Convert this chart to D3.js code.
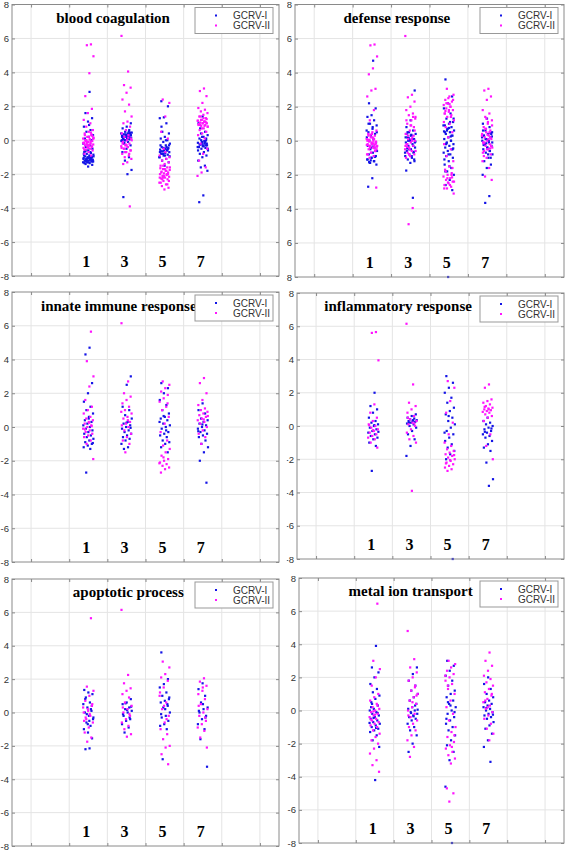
<!DOCTYPE html>
<html><head><meta charset="utf-8">
<script src="https://cdn.jsdelivr.net/npm/d3@7/dist/d3.min.js"></script>
<style>body{margin:0;background:#fff}svg{display:block}</style>
</head><body>
<svg id="c" width="567" height="851"></svg>
<script>
// ---------------- data ----------------
const timePoints = [1, 3, 5, 7];
const seriesNames = ["GCRV-I", "GCRV-II"];
const yTicks = [-8, -6, -4, -2, 0, 2, 4, 6, 8];
const xTicks = [-2, 0, 2, 4, 6, 8, 10];
const panelTitles = ["blood coagulation", "defense response", "innate immune response",
  "inflammatory response", "apoptotic process", "metal ion transport"];

// blood coagulation
const bloodI = [
  [2.85,1.6,1.3,1.1,0.8,0.6,0.5,0.3,0.2,0.1,0,-0.1,-0.2,-0.3,-0.4,-0.5,-0.6,-0.7,-0.75,-0.8,-0.85,-0.9,-0.95,-1.0,-1.0,-1.05,-1.1,-1.1,-1.15,-1.2,-1.2,-1.25,-1.3,-1.3,-1.35,-1.4,-1.45,-1.55,-0.9,-1.05,-1.15,-1.25,0.9,-0.65,
   -1.0,-1.05,-1.1,-1.15,-1.2,-1.25,-1.3,-1.35,-1.1,-1.2,-0.95,-1.0,-1.25,-1.15,-1.05,-0.8,-0.7,-0.6],
  [1.0,0.8,0.7,0.6,0.5,0.45,0.4,0.35,0.3,0.3,0.25,0.2,0.2,0.15,0.1,0.1,0.05,0,-0.05,-0.1,-0.2,-0.3,-0.5,-0.7,-1.0,-1.2,-1.75,-2.0,-3.35,0.4,0.2,0.0,0.35,-0.15,
   0.3,0.25,0.2,0.15,0.35,0.4,0.1,0.05,0.45,0.3,0.2,0.5,0.0],
  [2.3,2.0,1.35,1.3,1.0,0.5,0.4,0.2,0.1,0,-0.1,-0.2,-0.3,-0.4,-0.45,-0.5,-0.55,-0.6,-0.65,-0.7,-0.75,-0.8,-0.85,-0.9,-1.0,-1.1,-1.2,-1.3,-1.5,-0.3,-0.6,-0.8,-0.95,-0.5,0.8,
   -0.5,-0.6,-0.7,-0.4,-0.8,-0.3,-0.9,-0.65,-0.55,-0.45,-1.0,0.0],
  [1.4,1.0,0.5,0.4,0.3,0.2,0.1,0,-0.1,-0.15,-0.2,-0.25,-0.3,-0.35,-0.4,-0.45,-0.5,-0.6,-0.7,-0.8,-0.9,-1.0,-1.2,-1.5,-1.6,-1.8,-3.25,-3.65,-0.3,-0.2,-0.4,-0.05,0.7,
   -0.2,-0.3,-0.4,-0.1,0.0,-0.5,-0.35,-0.25,0.1,0.2,-0.6,-0.15]
];
const bloodII = [
  [5.65,5.6,4.95,3.95,2.6,1.85,1.6,1.2,1.0,0.8,0.6,0.5,0.4,0.3,0.2,0.1,0.05,0,-0.05,-0.1,-0.15,-0.2,-0.2,-0.25,-0.3,-0.3,-0.35,-0.4,-0.45,-0.5,-0.55,-0.6,-0.7,-0.8,-0.9,-0.1,0.15,-0.25,0.0,-0.4,
   -0.3,-0.2,-0.1,0,0.1,0.2,0.3,0.35,-0.35,-0.15,0.05,-0.05,0.25,-0.45,-0.55,0.45,-0.25,0.1],
  [6.15,4.05,3.25,3.1,2.8,2.4,2.1,1.7,1.4,1.1,1.0,0.8,0.6,0.4,0.3,0.2,0.1,0,-0.1,-0.2,-0.3,-0.35,-0.4,-0.5,-0.6,-0.7,-0.8,-0.9,-1.0,-1.1,-1.3,-1.4,-3.9,-0.25,-0.45,0.15,
   -0.5,-0.6,-0.3,-0.2,-0.8,-0.7,0.0,-0.4],
  [2.4,2.2,1.4,0.5,0.1,-0.5,-0.9,-1.1,-1.2,-1.3,-1.4,-1.5,-1.6,-1.7,-1.75,-1.8,-1.85,-1.9,-1.95,-2.0,-2.05,-2.1,-2.15,-2.2,-2.25,-2.3,-2.4,-2.5,-2.6,-2.7,-2.8,-2.9,-1.65,-2.0,-2.2,-1.0,-0.7,
   -1.9,-2.0,-2.1,-2.2,-1.8,-2.3,-2.4,-1.7,-2.5,-2.6,-1.5,-1.6],
  [3.05,2.9,2.6,2.2,1.9,1.8,1.7,1.6,1.5,1.4,1.3,1.2,1.15,1.1,1.05,1.0,1.0,0.95,0.9,0.85,0.8,0.7,0.6,0.5,0.4,0.3,0.1,-0.2,-0.5,-0.8,-1.2,-1.6,-1.9,-2.1,1.1,0.9,1.25,
   1.0,0.9,1.1,1.2,0.8,1.3,0.95,1.05,0.7,1.15,0.85,1.4]
];
// defense response
const defenseI = [
  [4.7,2.2,1.9,1.5,1.4,1.2,1.0,0.9,0.7,0.5,0.4,0.3,0.2,0.1,0,-0.1,-0.2,-0.3,-0.4,-0.5,-0.6,-0.7,-0.8,-0.9,-1.0,-1.1,-1.2,-1.3,-1.4,-2.2,-2.7,-0.95,-1.15,0.6,-0.35,-1.25,
   -0.9,-1.0,-1.1,-1.2,-1.3,0.5,0.8,1.0,-0.6,-0.4],
  [2.95,1.2,0.8,0.6,0.5,0.4,0.3,0.2,0.1,0,-0.1,-0.2,-0.3,-0.4,-0.5,-0.6,-0.7,-0.8,-0.9,-1.0,-1.1,-1.2,-1.3,-1.75,-3.35,0.15,-0.05,0.35,-0.45,-0.65,0.05,
   0.2,0.1,0.0,-0.1,0.3,0.4,-0.3,-0.5,-0.7,-0.9,0.5,-1.1],
  [3.6,2.6,2.2,1.9,1.6,1.3,1.1,1.0,0.9,0.8,0.7,0.6,0.5,0.4,0.3,0.2,0.1,0,-0.1,-0.2,-0.3,-0.4,-0.5,-0.6,-0.7,-0.8,-0.9,-1.0,-1.2,-1.4,-1.6,-1.8,-2.0,-2.3,-2.6,-2.9,-8.0,0.55,0.25,-0.15,-0.45,0.75,
   0.5,0.3,0.7,0.9,1.1,-0.2,-0.5,-0.8,-1.1,0.0,0.6,1.3,-1.5,-1.8],
  [1.3,1.0,0.8,0.6,0.5,0.4,0.3,0.2,0.1,0,-0.1,-0.2,-0.3,-0.4,-0.5,-0.6,-0.7,-0.8,-1.0,-1.2,-1.4,-1.6,-2.0,-3.25,-3.65,0.25,0.05,-0.25,0.45,-0.15,
   0.2,0.0,-0.2,0.4,-0.4,0.6,-0.6,0.1,-0.1,-0.8,0.3,-1.0]
];
const defenseII = [
  [5.65,5.6,4.95,4.25,3.9,3.05,2.95,2.6,1.8,1.2,0.6,0.5,0.4,0.3,0.2,0.1,0,-0.05,-0.1,-0.15,-0.2,-0.25,-0.3,-0.35,-0.4,-0.5,-0.6,-0.7,-0.8,-0.9,-1.0,-2.75,-0.2,0.05,-0.45,0.35,-0.3,0.15,
   -0.3,-0.2,-0.1,0,0.1,-0.4,-0.5,0.2,0.3,-0.6,-0.7,-0.25,-0.15,0.05,-0.05,0.4,-0.8,-0.35],
  [6.15,2.7,2.55,2.3,2.0,1.8,1.6,1.5,1.4,1.2,1.0,0.8,0.6,0.4,0.2,0.1,0,-0.1,-0.2,-0.3,-0.4,-0.5,-0.6,-0.7,-0.8,-0.9,-1.0,-3.95,-4.9,1.3,0.9,-0.35,0.3,
   -0.5,-0.3,0,0.3,0.6,0.9,1.2,1.4,-0.8,-0.6,0.1,-0.2],
  [3.05,2.7,2.6,2.4,2.3,2.2,2.1,2.0,1.9,1.8,1.7,1.6,1.5,1.4,1.2,1.0,0.8,0.5,0.2,-0.2,-0.5,-0.9,-1.2,-1.5,-1.7,-1.9,-2.0,-2.1,-2.2,-2.3,-2.4,-2.5,-2.6,-2.7,-2.8,-3.1,2.15,1.75,-2.15,-2.45,1.1,
   2.0,2.2,2.4,1.8,1.6,-2.0,-2.2,-2.4,-2.6,-1.8,-1.6,2.5,-2.8,1.4],
  [3.05,2.95,2.6,2.4,1.8,1.6,1.4,1.2,1.0,0.8,0.6,0.5,0.4,0.3,0.2,0.1,0,-0.1,-0.2,-0.3,-0.4,-0.5,-0.6,-0.8,-1.0,-1.2,-1.6,-2.1,-2.3,0.35,-0.15,-0.45,0.7,
   0.3,0.1,-0.1,-0.3,-0.5,-0.7,0.5,0.7,0.9,1.1,-0.9,0.2,1.3]
];
// innate immune response
const innateI = [
  [4.7,4.3,2.6,2.0,1.5,1.2,1.0,0.8,0.6,0.4,0.3,0.2,0.1,0,-0.1,-0.2,-0.3,-0.4,-0.5,-0.6,-0.7,-0.8,-0.9,-1.0,-1.1,-1.2,-1.3,-2.7,-0.95,0.5],
  [3.0,2.5,1.2,1.0,0.7,0.5,0.3,0.2,0.1,0,-0.1,-0.2,-0.3,-0.4,-0.5,-0.6,-0.7,-0.8,-1.0,-1.2,-1.3,-0.05,0.25],
  [2.6,2.3,2.0,1.6,1.3,1.0,0.8,0.6,0.5,0.4,0.2,0.1,0,-0.1,-0.3,-0.4,-0.5,-0.6,-0.8,-0.9,-1.0,-1.2,-1.5,0.65,0.3,-0.2],
  [1.4,1.0,0.8,0.5,0.4,0.3,0.2,0.1,0,-0.1,-0.2,-0.3,-0.4,-0.5,-0.6,-0.8,-1.0,-1.2,-1.5,-2.0,-3.3,0.15,-0.25]
];
const innateII = [
  [5.65,3.9,3.0,2.4,1.6,1.2,1.0,0.8,0.6,0.5,0.4,0.3,0.2,0.1,0,-0.1,-0.2,-0.3,-0.4,-0.5,-0.6,-0.8,-1.0,-1.9,0.25,-0.15,0.05],
  [6.15,2.7,2.0,1.8,1.6,1.4,1.2,1.0,0.8,0.6,0.5,0.3,0.2,0.1,0,-0.2,-0.4,-0.6,-0.8,-1.0,-1.5,0.9,0.4],
  [2.7,2.5,2.3,2.1,1.9,1.7,1.5,1.2,1.0,0.6,0.2,-0.3,-0.8,-1.1,-1.3,-1.5,-1.7,-1.9,-2.0,-2.1,-2.2,-2.3,-2.4,-2.5,-2.7,1.4,-1.8,-2.15],
  [2.9,2.6,2.0,1.6,1.3,1.1,1.0,0.9,0.8,0.7,0.6,0.5,0.4,0.3,0.2,0,-0.2,-0.4,-0.6,-1.0,0.65,0.45]
];
// inflammatory response
const inflamI = [
  [2.0,1.2,1.0,0.8,0.5,0.3,0.2,0.1,0,-0.1,-0.2,-0.3,-0.4,-0.5,-0.6,-0.7,-0.8,-1.0,-1.2,-2.7,-0.35,0.05],
  [0.7,0.6,0.5,0.45,0.4,0.35,0.3,0.3,0.25,0.2,0.15,0.1,0,-0.1,-0.3,-0.5,-0.8,-1.2,-1.8,0.35,0.2],
  [3.0,2.6,2.3,2.0,1.7,1.4,1.1,0.9,0.7,0.5,0.3,0.1,-0.1,-0.3,-0.5,-0.7,-0.9,-1.1,-1.3,-1.5,-1.7,-2.0,-8.0,0.6,-0.4],
  [0.5,0.3,0.2,0.1,0,-0.1,-0.2,-0.3,-0.4,-0.5,-0.6,-0.7,-0.9,-1.1,-1.3,-1.5,-2.2,-3.2,-3.6,-0.35,-0.15]
];
const inflamII = [
  [5.65,5.6,3.95,1.3,0.8,0.5,0.3,0.1,0,-0.1,-0.2,-0.3,-0.4,-0.5,-0.6,-0.7,-0.8,-1.0,-1.3,-0.25,0.05],
  [6.15,2.5,1.4,1.2,1.0,0.8,0.6,0.4,0.3,0.2,0.1,0,-0.2,-0.4,-0.6,-0.8,-1.0,-3.9,0.5,0.15],
  [2.7,2.3,1.5,0.8,0.2,-0.5,-1.0,-1.2,-1.4,-1.5,-1.6,-1.7,-1.8,-1.9,-2.0,-2.1,-2.2,-2.3,-2.4,-2.5,-2.6,-2.7,-1.75,-2.05,-2.25],
  [2.5,2.3,1.6,1.5,1.4,1.3,1.2,1.1,1.05,1.0,0.95,0.9,0.85,0.8,0.7,0.6,0.5,0.3,-0.5,-1.2,-2.0,1.0,1.15]
];
// apoptotic process
const apoptI = [
  [-2.15,-2.2,-1.55,-1.2,-1.0,-0.8,-0.6,-0.4,-0.2,0,0.1,0.3,0.5,0.6,0.9,1.1,1.2,1.35,0.2,-0.1,-0.3,-0.5,0.8,0.4,-0.7],
  [0.8,0.6,0.5,0.3,0.2,0.1,0,-0.2,-0.4,-0.5,-0.7,-0.9,-1.2,0.35,0.15,-0.1,-0.3,0.55],
  [3.6,2.0,1.7,1.5,1.2,1.0,0.8,0.7,0.6,0.5,0.3,0,-0.2,-0.3,-0.5,-0.7,-0.8,-1.0,-2.8,0.9,0.2,-0.1,0.4],
  [1.75,1.4,1.0,0.6,0.3,0.2,0,-0.2,-0.4,-0.7,-1.0,-1.6,-3.25,0.5,0.1,-0.3]
];
const apoptII = [
  [5.65,1.55,1.3,1.0,0.7,0.4,0.2,0,-0.2,-0.4,-0.6,-0.9,-1.2,-1.5,-1.75,0.3,-0.1,-0.3,0.5,0.1,-0.5],
  [6.15,2.25,1.75,1.45,1.3,1.1,0.9,0.6,0.4,0.2,0,-0.2,-0.4,-0.6,-0.8,-1.0,-1.3,-1.45,0.3,-0.1],
  [3.05,2.7,2.3,2.1,1.9,1.5,1.0,0.6,0.2,-0.2,-0.6,-1.0,-1.3,-1.6,-2.0,-2.1,-2.5,-3.1,0.4,1.2,-0.4],
  [2.05,1.85,1.6,1.3,1.1,0.8,0.5,0.2,0,-0.2,-0.5,-0.7,-0.9,-1.1,-1.5,-2.1,1.5,0.4,-0.3]
];
// metal ion transport
const metalI = [
  [3.9,2.6,2.3,2.0,1.6,1.3,1.1,0.9,0.7,0.5,0.3,0.1,0,-0.1,-0.2,-0.3,-0.4,-0.5,-0.6,-0.7,-0.8,-0.9,-1.0,-1.1,-1.2,-1.3,-1.5,-1.8,-2.2,-4.2,0.2,-0.15,-0.45,-0.75,-1.05,0.4],
  [2.6,2.2,1.8,1.5,1.2,1.0,0.8,0.6,0.4,0.2,0.1,0,-0.1,-0.2,-0.3,-0.4,-0.5,-0.6,-0.8,-1.0,-1.2,-1.5,-2.0,-2.5,0.3,-0.15,0.05,-0.35],
  [3.0,2.7,2.4,2.1,1.8,1.5,1.2,1.0,0.8,0.6,0.4,0.2,0,-0.2,-0.4,-0.6,-0.8,-1.0,-1.2,-1.5,-1.8,-2.1,-2.5,-3.0,-4.6,-8.0,0.5,-0.1,0.3,-0.5],
  [2.0,1.6,1.3,1.0,0.8,0.6,0.5,0.4,0.3,0.2,0.1,0,-0.1,-0.2,-0.3,-0.4,-0.5,-0.7,-0.9,-1.1,-1.4,-1.8,-2.2,-3.1,0.15,-0.25]
];
const metalII = [
  [6.45,3.0,2.5,2.0,1.5,1.0,0.8,0.6,0.4,0.2,0.1,0,-0.1,-0.2,-0.3,-0.4,-0.5,-0.6,-0.7,-0.8,-0.9,-1.0,-1.2,-1.4,-1.6,-1.8,-2.0,-2.3,-2.6,-3.0,-3.3,-3.7,-0.25,-0.55,0.3,-0.05],
  [4.8,3.1,2.6,2.3,2.0,1.8,1.5,1.2,1.0,0.8,0.6,0.4,0.2,0,-0.2,-0.4,-0.6,-0.8,-1.0,-1.2,-1.5,-1.8,-2.2,-2.8,0.9,0.5,-0.3,1.4],
  [3.0,2.8,2.6,2.4,2.2,2.0,1.8,1.6,1.3,1.0,0.6,0.2,-0.2,-0.6,-1.0,-1.3,-1.6,-1.9,-2.1,-2.3,-2.5,-2.7,-2.9,-3.2,-4.7,-5.0,-5.5,2.1,-2.2,1.5,-1.5],
  [3.5,3.0,2.7,2.4,2.1,1.9,1.7,1.5,1.3,1.1,0.9,0.7,0.5,0.3,0.1,-0.1,-0.3,-0.5,-0.8,-1.1,-1.4,-1.8,0.6,1.0,0.2]
];

// ---------------- layout ----------------
const seriesByPanel = [[bloodI, bloodII], [defenseI, defenseII], [innateI, innateII],
  [inflamI, inflamII], [apoptI, apoptII], [metalI, metalII]];
const boxes = [ // [left, top, right, bottom]
  [12, 4.5, 279, 276], [295, 4.5, 564, 277],
  [12, 292, 279, 562], [297, 293, 564, 559],
  [12, 579, 279, 846], [299, 578, 564, 843]
];
const titleCenters = [2.3, 2.3, 2.6, 2.3, 3.1, 2.9];
const colors = ["#1414e6", "#ff14ff"];
const frameColor = "#8a8a8a";
const gridColor = "#e4e4e4";

const svg = d3.select("#c");
svg.append("rect").attr("width", 567).attr("height", 851).attr("fill", "#fff");
const defs = svg.append("defs");
defs.append("clipPath").attr("id", "rightcol").append("rect")
  .attr("x", 286.8).attr("y", 0).attr("width", 300).attr("height", 851);

panelTitles.forEach((title, p) => {
  const [L, T, R, B] = boxes[p];
  const x = d3.scaleLinear().domain([-3, 11]).range([L, R]);
  const y = d3.scaleLinear().domain([-8, 8]).range([B, T]);
  const g = svg.append("g");
  if (p % 2 === 1) g.attr("clip-path", "url(#rightcol)");

  // grid
  g.append("g").selectAll("line").data(xTicks).join("line")
    .attr("x1", d => x(d)).attr("x2", d => x(d)).attr("y1", T).attr("y2", B)
    .attr("stroke", gridColor).attr("stroke-width", 1);
  g.append("g").selectAll("line").data(yTicks.slice(1, -1)).join("line")
    .attr("x1", L).attr("x2", R).attr("y1", d => y(d)).attr("y2", d => y(d))
    .attr("stroke", gridColor).attr("stroke-width", 1);

  // axes (ticks inward, box)
  const ya = g.append("g").attr("transform", `translate(${L},0)`)
    .call(d3.axisLeft(y).tickValues(yTicks).tickSize(-3).tickPadding(3).tickFormat(d => String(d)));
  ya.select(".domain").remove();
  ya.selectAll("line").attr("stroke", frameColor);
  ya.selectAll("text").attr("font-family", "'Liberation Sans', Arial, sans-serif")
    .attr("font-size", 9.5).attr("fill", "#333");
  const yr = g.append("g").attr("transform", `translate(${R},0)`)
    .call(d3.axisRight(y).tickValues(yTicks).tickSize(-3).tickFormat(""));
  yr.select(".domain").remove(); yr.selectAll("line").attr("stroke", frameColor);
  const xb = g.append("g").attr("transform", `translate(0,${B})`)
    .call(d3.axisBottom(x).tickValues(xTicks).tickSize(-3).tickFormat(""));
  xb.select(".domain").remove(); xb.selectAll("line").attr("stroke", frameColor);
  const xt = g.append("g").attr("transform", `translate(0,${T})`)
    .call(d3.axisTop(x).tickValues(xTicks).tickSize(-3).tickFormat(""));
  xt.select(".domain").remove(); xt.selectAll("line").attr("stroke", frameColor);

  // points
  seriesByPanel[p].forEach((series, s) => {
    const pts = [];
    series.forEach((vals, k) => {
      vals.forEach((v, i) => {
        const off = (((i + 1) * 0.6180339887 + k * 0.29 + s * 0.13) % 1 - 0.5) * 0.56;
        pts.push({ t: timePoints[k] + off, v });
      });
    });
    g.append("g").selectAll("rect").data(pts).join("rect")
      .attr("x", d => x(d.t) - 1.1).attr("y", d => y(d.v) - 1.1)
      .attr("width", 2.2).attr("height", 2.2).attr("fill", colors[s]);
  });

  // frame
  g.append("rect").attr("x", L).attr("y", T).attr("width", R - L).attr("height", B - T)
    .attr("fill", "none").attr("stroke", frameColor).attr("stroke-width", 1);

  // time labels
  g.append("g").selectAll("text").data(timePoints).join("text")
    .attr("x", d => x(d) - 2).attr("y", y(-7.45))
    .attr("text-anchor", "middle")
    .attr("font-family", "'Liberation Serif', 'Times New Roman', serif")
    .attr("font-weight", "bold").attr("font-size", 16).attr("fill", "#000")
    .text(d => d);

  // title
  g.append("text").attr("x", x(titleCenters[p])).attr("y", y(6.9))
    .attr("text-anchor", "middle")
    .attr("font-family", "'Liberation Serif', 'Times New Roman', serif")
    .attr("font-weight", "bold").attr("font-size", 15).attr("fill", "#000")
    .text(title);

  // legend
  const lw = 78, lh = 26, lx = R - 6 - lw, ly = T + 3;
  const lg = g.append("g");
  lg.append("rect").attr("x", lx).attr("y", ly).attr("width", lw).attr("height", lh)
    .attr("fill", "#fff").attr("stroke", "#999").attr("stroke-width", 1);
  seriesNames.forEach((nm, s) => {
    const ry = ly + 8 + s * 10;
    lg.append("rect").attr("x", lx + 20).attr("y", ry - 1).attr("width", 2).attr("height", 2)
      .attr("fill", colors[s]);
    lg.append("text").attr("x", lx + 38).attr("y", ry + 3.5)
      .attr("font-family", "'Liberation Sans', Arial, sans-serif").attr("font-size", 10)
      .attr("fill", "#333").text(nm);
  });
});
</script>
</body></html>
